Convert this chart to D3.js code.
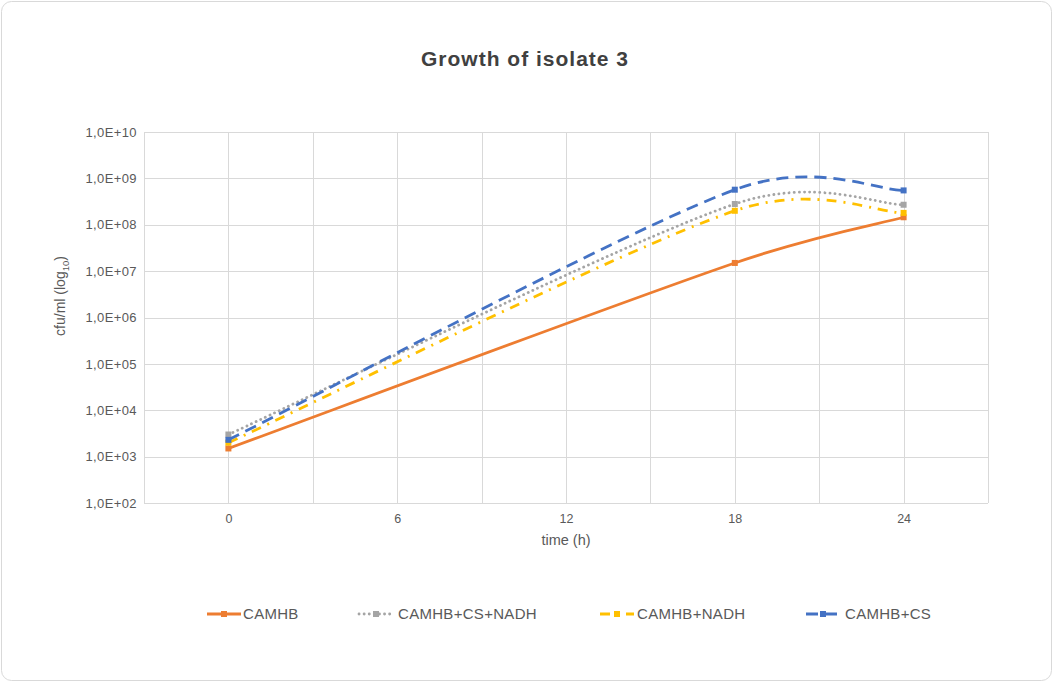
<!DOCTYPE html>
<html>
<head>
<meta charset="utf-8">
<script src="https://cdn.jsdelivr.net/npm/d3@7"></script>
<style>
  html, body { margin: 0; padding: 0; background: #fff; }
  svg { display: block; font-family: "Liberation Sans", Arial, sans-serif; }
</style>
</head>
<body>
<svg id="chart" width="1053" height="682"></svg>
<script>
// Sampling times (h)
const times = [0, 18, 24];
// cfu/ml per medium
const camhb        = [1.5e3, 1.5e7, 1.45e8];
const camhbCsNadh  = [3.0e3, 2.8e8, 2.7e8];
const camhbNadh    = [2.0e3, 2.0e8, 1.8e8];
const camhbCs      = [2.3e3, 5.7e8, 5.5e8];
const seriesNames  = ["CAMHB", "CAMHB+CS+NADH", "CAMHB+NADH", "CAMHB+CS"];
const xTickLabels  = [0, 6, 12, 18, 24];
const yTickValues  = [1e2, 1e3, 1e4, 1e5, 1e6, 1e7, 1e8, 1e9, 1e10];

const series = [
  { name: seriesNames[0], values: camhb,       color: "#ED7D31", dash: null,         cap: "butt" },
  { name: seriesNames[1], values: camhbCsNadh, color: "#A5A5A5", dash: "0.1 5",      cap: "round" },
  { name: seriesNames[2], values: camhbNadh,   color: "#FFC000", dash: "10 7 2 7",   cap: "butt" },
  { name: seriesNames[3], values: camhbCs,     color: "#4472C4", dash: "12 7",       cap: "butt" }
];

const svg = d3.select("#chart");
const W = 1053, H = 682;

// card frame
svg.append("rect")
  .attr("x", 1.5).attr("y", 1.5)
  .attr("width", W - 3).attr("height", H - 3)
  .attr("rx", 10).attr("ry", 10)
  .attr("fill", "#fff").attr("stroke", "#d9d9d9").attr("stroke-width", 1);

const plot = { left: 144, right: 988, top: 132, bottom: 503 };

const x = d3.scaleLinear().domain([-3, 27]).range([plot.left, plot.right]);
const y = d3.scaleLog().domain([1e2, 1e10]).range([plot.bottom, plot.top]);

// title
svg.append("text")
  .attr("x", 525).attr("y", 66)
  .attr("text-anchor", "middle")
  .attr("font-size", 21).attr("font-weight", "bold")
  .attr("letter-spacing", 1)
  .attr("fill", "#404040")
  .text("Growth of isolate 3");

// gridlines
const grid = svg.append("g").attr("stroke", "#d9d9d9").attr("stroke-width", 1);
d3.range(-3, 28, 3).forEach(t => {
  grid.append("line")
    .attr("x1", Math.round(x(t)) + 0.5).attr("x2", Math.round(x(t)) + 0.5)
    .attr("y1", plot.top).attr("y2", plot.bottom);
});
yTickValues.forEach(v => {
  grid.append("line")
    .attr("x1", plot.left).attr("x2", plot.right)
    .attr("y1", Math.round(y(v)) + 0.5).attr("y2", Math.round(y(v)) + 0.5);
});

// axes (labels only)
const fmtSci = v => {
  const e = Math.round(Math.log10(v));
  return "1,0E+" + String(e).padStart(2, "0");
};
const yAxis = d3.axisLeft(y).tickValues(yTickValues).tickFormat(fmtSci).tickSize(0).tickPadding(7);
const gy = svg.append("g").attr("transform", `translate(${plot.left},0)`).call(yAxis);
gy.select(".domain").remove();
gy.selectAll("text").attr("font-size", 13).attr("fill", "#595959")
  .attr("letter-spacing", 0.4)
  .attr("font-family", "Liberation Sans, Arial, sans-serif");

const xAxis = d3.axisBottom(x).tickValues(xTickLabels).tickFormat(d3.format("d")).tickSize(0).tickPadding(11);
const gx = svg.append("g").attr("transform", `translate(0,${plot.bottom})`).call(xAxis);
gx.select(".domain").remove();
gx.selectAll("text").attr("font-size", 12.5).attr("fill", "#595959")
  .attr("font-family", "Liberation Sans, Arial, sans-serif");

// axis titles
svg.append("text")
  .attr("x", x(12)).attr("y", 545)
  .attr("text-anchor", "middle")
  .attr("font-size", 14.5).attr("fill", "#595959")
  .text("time (h)");

const yTitle = svg.append("text")
  .attr("transform", `translate(65,296) rotate(-90)`)
  .attr("text-anchor", "middle")
  .attr("font-size", 14).attr("fill", "#595959");
yTitle.append("tspan").text("cfu/ml  (log");
yTitle.append("tspan").attr("font-size", 9.5).attr("dy", 4).text("10");
yTitle.append("tspan").attr("dy", -4).text(")");

// Spreadsheet-style smoothed path: cubic Bezier segments whose control arms
// follow (P[i+1]-P[i-1])/6, capped at half of the segment length.
function smoothPath(pts) {
  const n = pts.length;
  if (n < 2) return "";
  const P = i => pts[Math.max(0, Math.min(n - 1, i))];
  const dist = (a, b) => Math.hypot(b[0] - a[0], b[1] - a[1]);
  let d = `M${pts[0][0]},${pts[0][1]}`;
  for (let i = 0; i < n - 1; i++) {
    const p0 = P(i - 1), p1 = P(i), p2 = P(i + 1), p3 = P(i + 2);
    const d12 = dist(p1, p2), d02 = dist(p0, p2), d13 = dist(p1, p3);
    let f0 = 1 / 6, f3 = 1 / 6;
    if (d02 / 6 > d12 / 2 && d02 > 0) f0 = d12 / (2 * d02);
    if (d13 / 6 > d12 / 2 && d13 > 0) f3 = d12 / (2 * d13);
    const c1 = [p1[0] + f0 * (p2[0] - p0[0]), p1[1] + f0 * (p2[1] - p0[1])];
    const c2 = [p2[0] - f3 * (p3[0] - p1[0]), p2[1] - f3 * (p3[1] - p1[1])];
    d += `C${c1[0]},${c1[1]},${c2[0]},${c2[1]},${p2[0]},${p2[1]}`;
  }
  return d;
}

const lines = svg.append("g");
series.forEach(s => {
  const data = times.map((t, i) => ({ t, v: s.values[i] }));
  const pix = data.map(d => [x(d.t), y(d.v)]);
  lines.append("path")
    .attr("d", smoothPath(pix))
    .attr("fill", "none")
    .attr("stroke", s.color)
    .attr("stroke-width", 2.8)
    .attr("stroke-linecap", s.cap)
    .attr("stroke-dasharray", s.dash);
  lines.selectAll(null)
    .data(data)
    .enter().append("rect")
    .attr("x", d => x(d.t) - 3).attr("y", d => y(d.v) - 3)
    .attr("width", 6).attr("height", 6)
    .attr("fill", s.color);
});

// legend
const legendItems = [
  { lx: 207, tx: 243 },
  { lx: 359, tx: 398 },
  { lx: 600, tx: 637 },
  { lx: 806, tx: 845 }
];
const legY = 614;
series.forEach((s, i) => {
  const g = svg.append("g");
  const lx = legendItems[i].lx;
  g.append("line")
    .attr("x1", lx).attr("x2", lx + 34)
    .attr("y1", legY).attr("y2", legY)
    .attr("stroke", s.color).attr("stroke-width", 2.8)
    .attr("stroke-linecap", s.cap)
    .attr("stroke-dasharray", s.dash);
  g.append("rect")
    .attr("x", lx + 17 - 3).attr("y", legY - 3)
    .attr("width", 6).attr("height", 6)
    .attr("fill", s.color);
  g.append("text")
    .attr("x", legendItems[i].tx).attr("y", legY + 5)
    .attr("font-size", 15).attr("fill", "#595959")
    .attr("letter-spacing", 0.3)
    .text(s.name);
});
</script>
</body>
</html>
